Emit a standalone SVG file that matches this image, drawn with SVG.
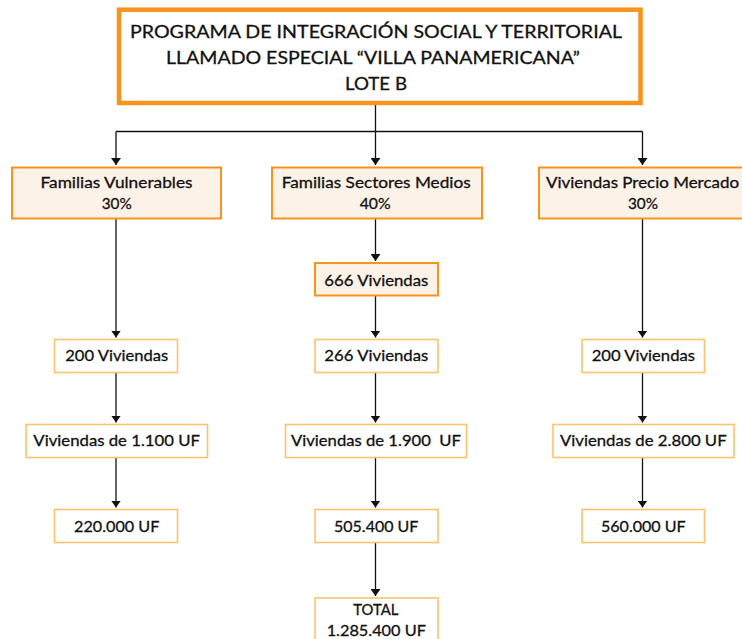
<svg xmlns="http://www.w3.org/2000/svg" width="742" height="639" viewBox="0 0 742 639">
<style>
text{font-family:Lato,"Open Sans","Liberation Sans",sans-serif;fill:#111;stroke:#111;stroke-width:0.3;text-anchor:middle}
.t{font-size:18px}
.b{font-size:16px}
.title{fill:#fff;stroke:#F7941D;stroke-width:4.5}
.main{fill:#FDF2E7;stroke:#F7941D;stroke-width:2}
.light{fill:#fff;stroke:#FCC46E;stroke-width:1.6}
.c{fill:none;stroke:#111;stroke-width:1.3}
</style>
<defs>
<marker id="ah" viewBox="0 0 7 10" refX="7" refY="5" markerWidth="7" markerHeight="10" markerUnits="userSpaceOnUse" orient="auto">
<path d="M0,0 L7,5 L0,10 z" fill="#111"/>
</marker>
</defs>
<rect width="742" height="639" fill="#fff"/>
<g id="connectors">
<path class="c" d="M375.5,105 V131.5 M116,131.5 H642.5"/>
<path class="c" marker-end="url(#ah)" d="M116,131.5 V165"/>
<path class="c" marker-end="url(#ah)" d="M375.5,131.5 V165"/>
<path class="c" marker-end="url(#ah)" d="M642.5,131.5 V165"/>
<path class="c" marker-end="url(#ah)" d="M116,219 V337.5"/>
<path class="c" marker-end="url(#ah)" d="M116,373 V422.5"/>
<path class="c" marker-end="url(#ah)" d="M116,458 V507.5"/>
<path class="c" marker-end="url(#ah)" d="M375.5,219 V261"/>
<path class="c" marker-end="url(#ah)" d="M375.5,296 V337.5"/>
<path class="c" marker-end="url(#ah)" d="M375.5,373 V422.5"/>
<path class="c" marker-end="url(#ah)" d="M375.5,458 V507.5"/>
<path class="c" marker-end="url(#ah)" d="M375.5,543 V596"/>
<path class="c" marker-end="url(#ah)" d="M642.5,219 V337.5"/>
<path class="c" marker-end="url(#ah)" d="M642.5,373 V422.5"/>
<path class="c" marker-end="url(#ah)" d="M642.5,458 V507.5"/>
</g>
<g id="title">
<rect class="title" x="119" y="9.7" width="521.5" height="93.3"/>
<text class="t" x="376" y="38" textLength="492" lengthAdjust="spacingAndGlyphs">PROGRAMA DE INTEGRACIÓN SOCIAL Y TERRITORIAL</text>
<text class="t" x="373" y="64.3" textLength="414" lengthAdjust="spacingAndGlyphs">LLAMADO ESPECIAL “VILLA PANAMERICANA”</text>
<text class="t" x="376" y="89.5" textLength="62" lengthAdjust="spacingAndGlyphs">LOTE B</text>
</g>
<g id="familias-vulnerables">
<rect class="main" x="12" y="167.5" width="209" height="51"/>
<text class="b" x="116.5" y="188.3" textLength="152" lengthAdjust="spacingAndGlyphs">Familias Vulnerables</text>
<text class="b" x="116.7" y="209" textLength="30" lengthAdjust="spacingAndGlyphs">30%</text>
</g>
<g id="familias-sectores-medios">
<rect class="main" x="272" y="167.5" width="210" height="51"/>
<text class="b" x="376.2" y="188.3" textLength="189" lengthAdjust="spacingAndGlyphs">Familias Sectores Medios</text>
<text class="b" x="375.2" y="209" textLength="31" lengthAdjust="spacingAndGlyphs">40%</text>
</g>
<g id="viviendas-precio-mercado">
<rect class="main" x="539" y="167.5" width="210" height="51"/>
<text class="b" x="642.5" y="188.3" textLength="193" lengthAdjust="spacingAndGlyphs">Viviendas Precio Mercado</text>
<text class="b" x="643" y="209" textLength="30" lengthAdjust="spacingAndGlyphs">30%</text>
</g>
<g id="viviendas-666">
<rect class="main" x="315" y="263" width="123" height="32.5"/>
<text class="b" x="376.3" y="285.7" textLength="104" lengthAdjust="spacingAndGlyphs">666 Viviendas</text>
</g>
<g id="viviendas-200-a">
<rect class="light" x="54.5" y="339.5" width="123" height="33"/>
<text class="b" x="116.7" y="360.7" textLength="103" lengthAdjust="spacingAndGlyphs">200 Viviendas</text>
</g>
<g id="viviendas-266">
<rect class="light" x="315" y="339.5" width="123" height="33"/>
<text class="b" x="376.3" y="360.7" textLength="104" lengthAdjust="spacingAndGlyphs">266 Viviendas</text>
</g>
<g id="viviendas-200-b">
<rect class="light" x="582" y="339.5" width="122.5" height="33"/>
<text class="b" x="643.3" y="360.7" textLength="103.3" lengthAdjust="spacingAndGlyphs">200 Viviendas</text>
</g>
<g id="precio-1100">
<rect class="light" x="26" y="424.5" width="181.5" height="33"/>
<text class="b" x="116.7" y="445.7" textLength="166.7" lengthAdjust="spacingAndGlyphs">Viviendas de 1.100 UF</text>
</g>
<g id="precio-1900">
<rect class="light" x="285.5" y="424.5" width="181" height="33"/>
<text class="b" x="376" y="445.7" textLength="170" lengthAdjust="spacingAndGlyphs" style="white-space:pre">Viviendas de 1.900  UF</text>
</g>
<g id="precio-2800">
<rect class="light" x="553" y="424.5" width="181" height="33"/>
<text class="b" x="643.3" y="445.7" textLength="166.7" lengthAdjust="spacingAndGlyphs">Viviendas de 2.800 UF</text>
</g>
<g id="total-220000">
<rect class="light" x="54.5" y="509.5" width="123" height="33"/>
<text class="b" x="116.7" y="532.3" textLength="85.3" lengthAdjust="spacingAndGlyphs">220.000 UF</text>
</g>
<g id="total-505400">
<rect class="light" x="315" y="509.5" width="123" height="33"/>
<text class="b" x="376.2" y="532.3" textLength="84.3" lengthAdjust="spacingAndGlyphs">505.400 UF</text>
</g>
<g id="total-560000">
<rect class="light" x="582" y="509.5" width="122.5" height="33"/>
<text class="b" x="643.3" y="532.3" textLength="84.7" lengthAdjust="spacingAndGlyphs">560.000 UF</text>
</g>
<g id="total">
<rect class="light" x="315" y="598" width="123" height="60"/>
<text class="b" x="375.8" y="615" textLength="45" lengthAdjust="spacingAndGlyphs">TOTAL</text>
<text class="b" x="376.3" y="635.7" textLength="99.3" lengthAdjust="spacingAndGlyphs">1.285.400 UF</text>
</g>
</svg>
